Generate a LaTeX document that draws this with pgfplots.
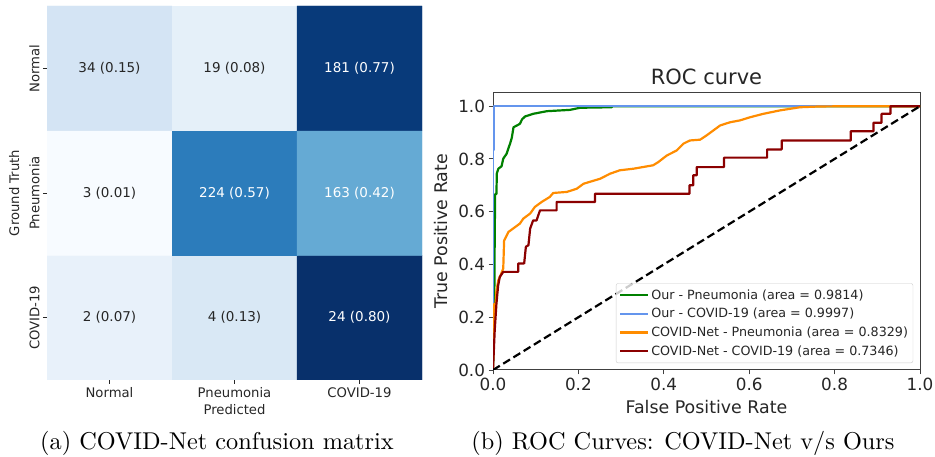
\documentclass[border=0pt]{standalone}
\usepackage{fontspec}
\usepackage{pgfplots}
\pgfplotsset{compat=1.18}
\newfontfamily\dejavu{DejaVu Sans}

\definecolor{tdark}{HTML}{262626}
\definecolor{spine}{HTML}{404040}
\definecolor{cgreen}{HTML}{008000}
\definecolor{cblue}{HTML}{6495ED}
\definecolor{corange}{HTML}{FF8C00}
\definecolor{cred}{HTML}{8B0000}

\begin{document}
\begin{tikzpicture}[x=1pt,y=1pt]
\useasboundingbox (0,0) rectangle (935,457);

% confusion matrix (rows normalised)
\begin{axis}[
    at={(47pt,77pt)}, anchor=south west,
    scale only axis, width=375pt, height=374pt,
    xmin=-0.5, xmax=2.5, ymin=-0.5, ymax=2.5,
    enlargelimits=false,
    axis line style={draw=none},
    colormap={blues}{rgb255=(247,251,255) rgb255=(222,235,247) rgb255=(198,219,239)
        rgb255=(158,202,225) rgb255=(107,174,214) rgb255=(66,146,198)
        rgb255=(33,113,181) rgb255=(8,81,156) rgb255=(8,48,107)},
    point meta min=0.01, point meta max=0.80,
    xtick={0,1,2}, xticklabels={Normal,Pneumonia,COVID-19},
    ytick={0,1,2}, yticklabels={COVID-19,Pneumonia,Normal},
    xtick pos=left, ytick pos=left,
    tick align=outside, major tick length=4pt,
    tick style={color=tdark, line width=0.8pt},
    ticklabel style={font=\dejavu\fontsize{13.2}{15}\selectfont, text=tdark},
    yticklabel style={rotate=90, anchor=south},
    xlabel={Predicted}, ylabel={Ground Truth},
    label style={font=\dejavu\fontsize{13.2}{15}\selectfont, text=tdark},
    ylabel style={yshift=3pt},
]
\addplot[matrix plot*, mesh/cols=3, point meta=explicit] table[meta=v] {
x y v
0 0 0.07
1 0 0.13
2 0 0.80
0 1 0.01
1 1 0.57
2 1 0.42
0 2 0.15
1 2 0.08
2 2 0.77
};
\addplot[draw=none, nodes near coords, nodes near coords align=center,
    point meta=explicit symbolic,
    every node near coord/.append style={font=\dejavu\fontsize{13.5}{16}\selectfont, text=tdark}]
    table[col sep=comma, meta=t] {
x,y,t
0,2,34 (0.15)
1,2,19 (0.08)
0,1,3 (0.01)
0,0,2 (0.07)
1,0,4 (0.13)
};
\addplot[draw=none, nodes near coords, nodes near coords align=center,
    point meta=explicit symbolic,
    every node near coord/.append style={font=\dejavu\fontsize{13.5}{16}\selectfont, text=white}]
    table[col sep=comma, meta=t] {
x,y,t
2,2,181 (0.77)
1,1,224 (0.57)
2,1,163 (0.42)
2,0,24 (0.80)
};
\end{axis}

% ROC curves
\begin{axis}[
    at={(493pt,87pt)}, anchor=south west,
    scale only axis, width=427pt, height=277pt,
    xmin=0, xmax=1, ymin=0, ymax=1.05,
    axis line style={draw=spine, line width=1pt},
    xtick={0,0.2,0.4,0.6,0.8,1}, ytick={0,0.2,0.4,0.6,0.8,1},
    xtick pos=left, ytick pos=left,
    tick align=outside, major tick length=4.5pt,
    tick style={color=spine, line width=0.9pt},
    /pgf/number format/.cd, fixed, fixed zerofill, precision=1, assume math mode=true,
    /pgfplots/.cd,
    ticklabel style={font=\dejavu\fontsize{16.8}{20}\selectfont, text=tdark},
    title={ROC curve},
    title style={font=\dejavu\fontsize{21}{25}\selectfont, text=tdark, yshift=-1pt},
    xlabel={False Positive Rate}, ylabel={True Positive Rate},
    label style={font=\dejavu\fontsize{17.4}{20}\selectfont, text=tdark},
    xlabel style={yshift=-3pt}, ylabel style={yshift=4pt},
    legend style={at={(0.984,0.025)}, anchor=south east,
        font=\dejavu\fontsize{12.7}{15}\selectfont, text=tdark,
        draw=black!20, fill=white, fill opacity=0.8, text opacity=1,
        rounded corners=2pt, row sep=3.6pt, inner ysep=4pt},
    legend cell align=left,
    legend image code/.code={\draw[#1, line width=2.2pt] (0pt,0pt) -- (28pt,0pt);},
    every axis plot/.append style={line width=2.2pt, line join=round},
]
\addplot[cgreen] coordinates {
(0,0) (0.003,0.25) (0.004,0.5) (0.005,0.667) (0.008,0.667) (0.009,0.745)
(0.0125,0.763) (0.02,0.772) (0.024,0.801) (0.032,0.82) (0.036,0.84)
(0.040,0.858) (0.044,0.88) (0.048,0.92) (0.063,0.933) (0.068,0.95)
(0.075,0.961) (0.094,0.971) (0.126,0.981) (0.18,0.986) (0.204,0.994)
(0.278,0.996) (0.28,1) (1,1)
};
\addlegendentry{Our - Pneumonia (area = 0.9814)}
\addplot[cblue] coordinates {
(0,0) (0,0.833) (0.002,0.833) (0.002,1) (1,1)
};
\addlegendentry{Our - COVID-19 (area = 0.9997)}
\addplot[corange] coordinates {
(0,0) (0.002,0.25) (0.006,0.25) (0.008,0.30) (0.0125,0.34) (0.018,0.36)
(0.024,0.385) (0.026,0.49) (0.036,0.523) (0.052,0.542) (0.063,0.555)
(0.071,0.574) (0.087,0.593) (0.098,0.618) (0.114,0.637) (0.133,0.656)
(0.141,0.671) (0.173,0.675) (0.196,0.687) (0.212,0.706) (0.251,0.725)
(0.274,0.744) (0.297,0.757) (0.329,0.763) (0.375,0.776) (0.387,0.788)
(0.407,0.813) (0.430,0.832) (0.446,0.858) (0.461,0.870) (0.485,0.873)
(0.500,0.889) (0.516,0.908) (0.532,0.927) (0.555,0.939) (0.578,0.946)
(0.602,0.958) (0.633,0.971) (0.672,0.984) (0.719,0.996) (0.766,0.999)
(0.844,1.0) (1,1)
};
\addlegendentry{COVID-Net - Pneumonia (area = 0.8329)}
\addplot[cred] coordinates {
(0,0) (0.004,0.15) (0.008,0.25) (0.012,0.32) (0.016,0.353) (0.024,0.372)
(0.059,0.372) (0.059,0.404) (0.073,0.404) (0.077,0.467) (0.083,0.473)
(0.087,0.536) (0.094,0.567) (0.102,0.567) (0.110,0.605) (0.149,0.605)
(0.149,0.637) (0.239,0.637) (0.239,0.668) (0.460,0.668) (0.460,0.700)
(0.469,0.700) (0.469,0.738) (0.477,0.738) (0.477,0.769) (0.541,0.769)
(0.541,0.805) (0.642,0.805) (0.642,0.836) (0.676,0.836) (0.676,0.870)
(0.838,0.870) (0.838,0.905) (0.891,0.905) (0.891,0.937) (0.910,0.937)
(0.910,0.971) (0.931,0.971) (0.931,1.0) (1,1)
};
\addlegendentry{COVID-Net - COVID-19 (area = 0.7346)}
\addplot[black, dash pattern=on 8pt off 4pt, forget plot] coordinates {(0,0) (1,1)};
\end{axis}

% sub-figure captions
\node[anchor=base, scale=2.43, font=\fontsize{10}{12}\selectfont] at (217,7) {(a) COVID-Net confusion matrix};
\node[anchor=base, scale=2.43, font=\fontsize{10}{12}\selectfont] at (683,7) {(b) ROC Curves: COVID-Net v/s Ours};
\end{tikzpicture}
\end{document}
